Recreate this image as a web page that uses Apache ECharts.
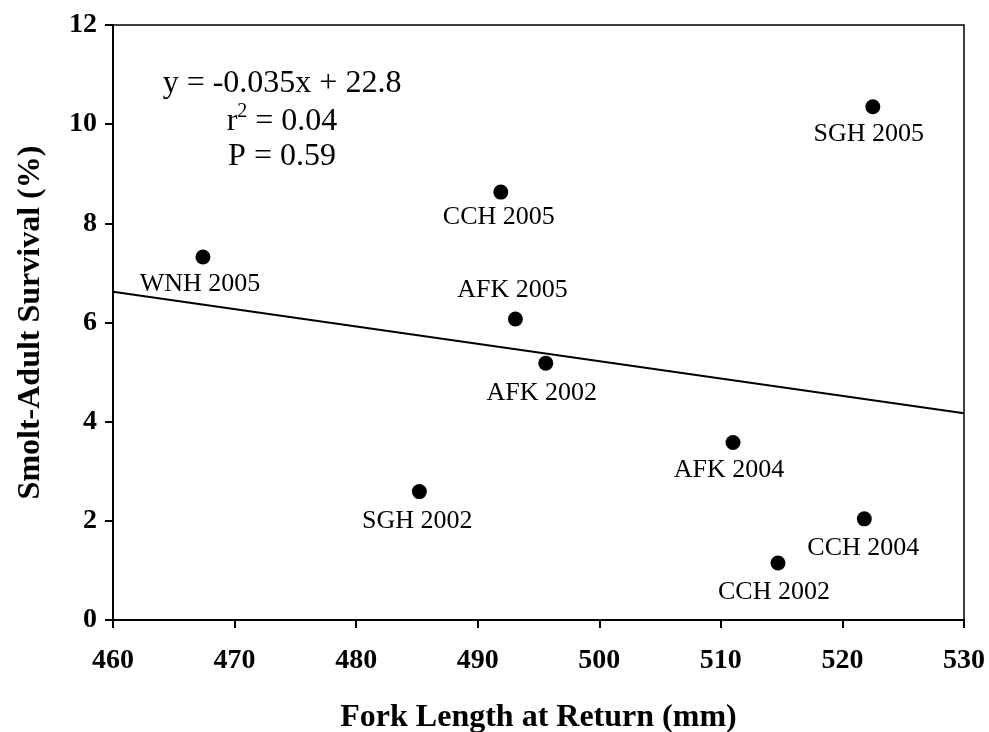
<!DOCTYPE html>
<html>
<head>
<meta charset="utf-8">
<script src="https://cdn.jsdelivr.net/npm/echarts@6/dist/echarts.min.js"></script>
<style>
html,body{margin:0;padding:0;background:#fff;}
#chart{width:989px;height:732px;}
</style>
</head>
<body>
<div id="chart"></div>
<script>
// ---- data ----
var groupNames = ['WNH 2005','CCH 2005','SGH 2005','AFK 2005','AFK 2002','AFK 2004','SGH 2002','CCH 2004','CCH 2002'];
var forkLength = [467.4, 491.9, 522.5, 493.1, 495.6, 511.0, 485.2, 521.8, 514.7];
var survival   = [7.32, 8.63, 10.35, 6.07, 5.18, 3.58, 2.59, 2.04, 1.15];
var trendX = [460, 530];
var trendY = [6.62, 4.17];
var xTicks = [460, 470, 480, 490, 500, 510, 520, 530];
var yTicks = [0, 2, 4, 6, 8, 10, 12];
var equationLines = ['y = -0.035x + 22.8', 'r', '2', ' = 0.04', 'P = 0.59'];

// ---- label placement (style, kept separate from data) ----
var labelOffset = {
  'WNH 2005':[-3,27], 'CCH 2005':[-2,25], 'SGH 2005':[-4,27], 'AFK 2005':[-3,-29],
  'AFK 2002':[-4,30], 'AFK 2004':[-4,28], 'SGH 2002':[-2,30], 'CCH 2004':[-1,29], 'CCH 2002':[-4,29]
};

var FONT = "'Liberation Serif','Times New Roman',serif";

var pts = groupNames.map(function(n, i){
  return {
    name: n,
    value: [forkLength[i], survival[i]],
    label: { offset: labelOffset[n] }
  };
});
var trend = trendX.map(function(x, i){ return [x, trendY[i]]; });

var EQX = 282;
var chart = echarts.init(document.getElementById('chart'), null, {renderer:'canvas'});
chart.setOption({
  animation: false,
  backgroundColor: '#fff',
  grid: { left: 113, right: 25, top: 25, bottom: 112, show: true, borderColor: '#000', borderWidth: 1.5,
          backgroundColor: 'transparent', containLabel: false, outerBoundsMode: 'none' },
  xAxis: {
    type: 'value', min: xTicks[0], max: xTicks[xTicks.length-1], interval: 10,
    name: 'Fork Length at Return (mm)', nameLocation: 'middle', nameGap: 82,
    nameTextStyle: { fontFamily: FONT, fontWeight: 'bold', fontSize: 32, color: '#000' },
    axisLine: { show: true, onZero: false, lineStyle: { color: '#000', width: 2 } },
    axisTick: { show: true, inside: false, length: 8, lineStyle: { color: '#000', width: 2 } },
    axisLabel: { margin: 27, fontFamily: FONT, fontWeight: 'bold', fontSize: 28, color: '#000' },
    splitLine: { show: false }
  },
  yAxis: {
    type: 'value', min: yTicks[0], max: yTicks[yTicks.length-1], interval: 2,
    name: 'Smolt-Adult Survival (%)', nameLocation: 'middle', nameGap: 66, nameRotate: 90,
    nameTextStyle: { fontFamily: FONT, fontWeight: 'bold', fontSize: 32, color: '#000' },
    axisLine: { show: true, onZero: false, lineStyle: { color: '#000', width: 2 } },
    axisTick: { show: true, inside: false, length: 8, lineStyle: { color: '#000', width: 2 } },
    axisLabel: { margin: 16, fontFamily: FONT, fontWeight: 'bold', fontSize: 28, color: '#000' },
    splitLine: { show: false }
  },
  series: [
    {
      type: 'line', data: trend, symbol: 'none', silent: true,
      lineStyle: { color: '#000', width: 2 }, z: 2
    },
    {
      type: 'scatter', data: pts, symbol: 'circle', symbolSize: 15,
      itemStyle: { color: '#000', opacity: 1 }, z: 3,
      label: {
        show: true, position: 'inside', formatter: '{b}',
        fontFamily: FONT, fontSize: 26, color: '#000', opacity: 1
      }
    }
  ],
  graphic: [
    {
      type: 'text', x: EQX, y: 84, z: 10,
      style: { text: equationLines[0], fontFamily: FONT, fontSize: 32, fill: '#000', align: 'center', verticalAlign: 'middle' }
    },
    {
      type: 'text', x: EQX, y: 120, z: 10,
      style: {
        text: '{r|' + equationLines[1] + '}{s|' + equationLines[2] + '}{r|' + equationLines[3] + '}',
        fontFamily: FONT, fontSize: 32, fill: '#000', align: 'center', verticalAlign: 'middle',
        rich: {
          r: { fontFamily: FONT, fontSize: 32, lineHeight: 36, verticalAlign: 'bottom' },
          s: { fontFamily: FONT, fontSize: 20, lineHeight: 36, verticalAlign: 'top' }
        }
      }
    },
    {
      type: 'text', x: EQX, y: 157, z: 10,
      style: { text: equationLines[4], fontFamily: FONT, fontSize: 32, fill: '#000', align: 'center', verticalAlign: 'middle' }
    }
  ]
});
</script>
</body>
</html>
